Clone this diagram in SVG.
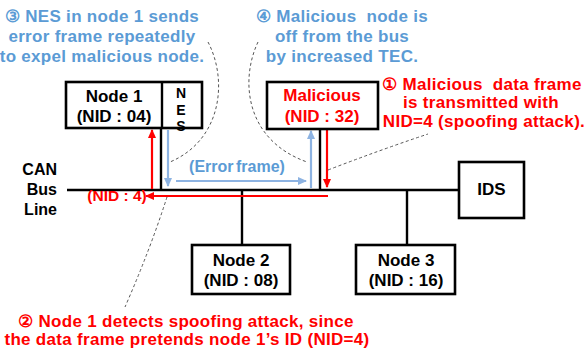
<svg xmlns="http://www.w3.org/2000/svg" width="588" height="352" viewBox="0 0 588 352">
<style>
text{font-family:"Liberation Sans",Arial,sans-serif;font-weight:bold}
.box{fill:#fff;stroke:#000;stroke-width:2.6}
.lbl{font-size:17px;fill:#000;text-anchor:middle}
.red{fill:#ff0000}
.ann{font-size:17px;letter-spacing:0.3px;text-anchor:middle}
.blue{fill:#5b9bd5}
.wire{stroke:#000;stroke-width:2.4;fill:none}
.ra{stroke:#ff0000;stroke-width:2.2;fill:none}
.ba{stroke:#8db3e2;stroke-width:2.2;fill:none}
.dash{stroke:#555;stroke-width:1;stroke-dasharray:3 2.5;fill:none}
.vert{font-size:14px;writing-mode:vertical-rl;text-orientation:upright;letter-spacing:0.5px}
</style>
<defs>
<marker id="ahR" markerUnits="userSpaceOnUse" markerWidth="9" markerHeight="8" refX="8" refY="4" orient="auto"><path d="M0,0 L9,4 L0,8 Z" fill="#ff0000"/></marker>
<marker id="ahB" markerUnits="userSpaceOnUse" markerWidth="9" markerHeight="8" refX="8" refY="4" orient="auto"><path d="M0,0 L9,4 L0,8 Z" fill="#8db3e2"/></marker>
</defs>

<g id="connectors">
<line class="wire" x1="67" y1="190" x2="459" y2="190"/>
<line class="wire" x1="161" y1="128" x2="161" y2="190"/>
<line class="wire" x1="320" y1="129" x2="320" y2="190"/>
<line class="wire" x1="242" y1="190" x2="242" y2="245"/>
<line class="wire" x1="407" y1="190" x2="407" y2="245"/>
<line class="ra" x1="152" y1="189" x2="152" y2="130" marker-end="url(#ahR)"/>
<line class="ra" x1="328" y1="196" x2="146" y2="196" marker-end="url(#ahR)"/>
<line class="ra" x1="327" y1="130" x2="327" y2="187" marker-end="url(#ahR)"/>
<line class="ba" x1="168" y1="130" x2="168" y2="186" marker-end="url(#ahB)"/>
<line class="ba" x1="176" y1="181" x2="306" y2="181" marker-end="url(#ahB)"/>
<line class="ba" x1="311" y1="188" x2="311" y2="131" marker-end="url(#ahB)"/>
</g>

<g id="node1">
<rect class="box" x="66" y="82" width="136" height="46"/>
<line class="wire" x1="162" y1="82" x2="162" y2="128"/>
<text class="lbl" x="114" y="102">Node 1</text>
<text class="lbl" x="114" y="122">(NID : 04)</text>
<text class="vert" x="181" y="85">NES</text>
</g>

<g id="malicious">
<rect class="box" x="267" y="82" width="111" height="47"/>
<text class="lbl red" x="322" y="101">Malicious</text>
<text class="lbl red" x="322" y="122">(NID : 32)</text>
</g>

<g id="node2">
<rect class="box" x="192" y="245" width="98" height="49"/>
<text class="lbl" x="241" y="266">Node 2</text>
<text class="lbl" x="241" y="286">(NID : 08)</text>
</g>

<g id="node3">
<rect class="box" x="356" y="245" width="99" height="49"/>
<text class="lbl" x="406" y="266">Node 3</text>
<text class="lbl" x="406" y="286">(NID : 16)</text>
</g>

<g id="ids">
<rect class="box" x="459" y="162" width="65" height="56"/>
<text class="lbl" x="491.5" y="195">IDS</text>
</g>

<g id="bus-label">
<text x="57" y="175" style="font-size:16px;text-anchor:end">CAN</text>
<text x="57" y="195" style="font-size:16px;text-anchor:end">Bus</text>
<text x="57" y="215" style="font-size:16px;text-anchor:end">Line</text>
</g>

<g id="frame-labels">
<text class="red" x="117" y="201" style="font-size:15.5px;text-anchor:middle">(NID : 4)</text>
<text class="blue" x="237" y="172" style="font-size:16px;text-anchor:middle;word-spacing:-2px">(Error frame)</text>
</g>

<g id="callouts">
<path class="dash" d="M208,42 C228,80 222,140 170,162"/>
<path class="dash" d="M258,42 C240,80 245,140 307,162"/>
<path class="dash" d="M328,170 Q380,150 428,134"/>
<path class="dash" d="M167,197 Q150,250 125,307"/>
</g>

<g id="annotations">
<text class="ann blue" x="102" y="22">③ NES in node 1 sends</text>
<text class="ann blue" x="102" y="42">error frame repeatedly</text>
<text class="ann blue" x="102" y="62">to expel malicious node.</text>
<text class="ann blue" x="342" y="22" style="white-space:pre">④ Malicious  node is</text>
<text class="ann blue" x="342" y="42">off from the bus</text>
<text class="ann blue" x="342" y="62">by increased TEC.</text>
<text class="ann red" x="482" y="90" style="white-space:pre">① Malicious  data frame</text>
<text class="ann red" x="481" y="108">is transmitted with</text>
<text class="ann red" x="484" y="127">NID=4 (spoofing attack).</text>
<text class="ann red" x="186" y="327">② Node 1 detects spoofing attack, since</text>
<text class="ann red" x="187" y="345">the data frame pretends node 1’s ID (NID=4)</text>
</g>
</svg>
